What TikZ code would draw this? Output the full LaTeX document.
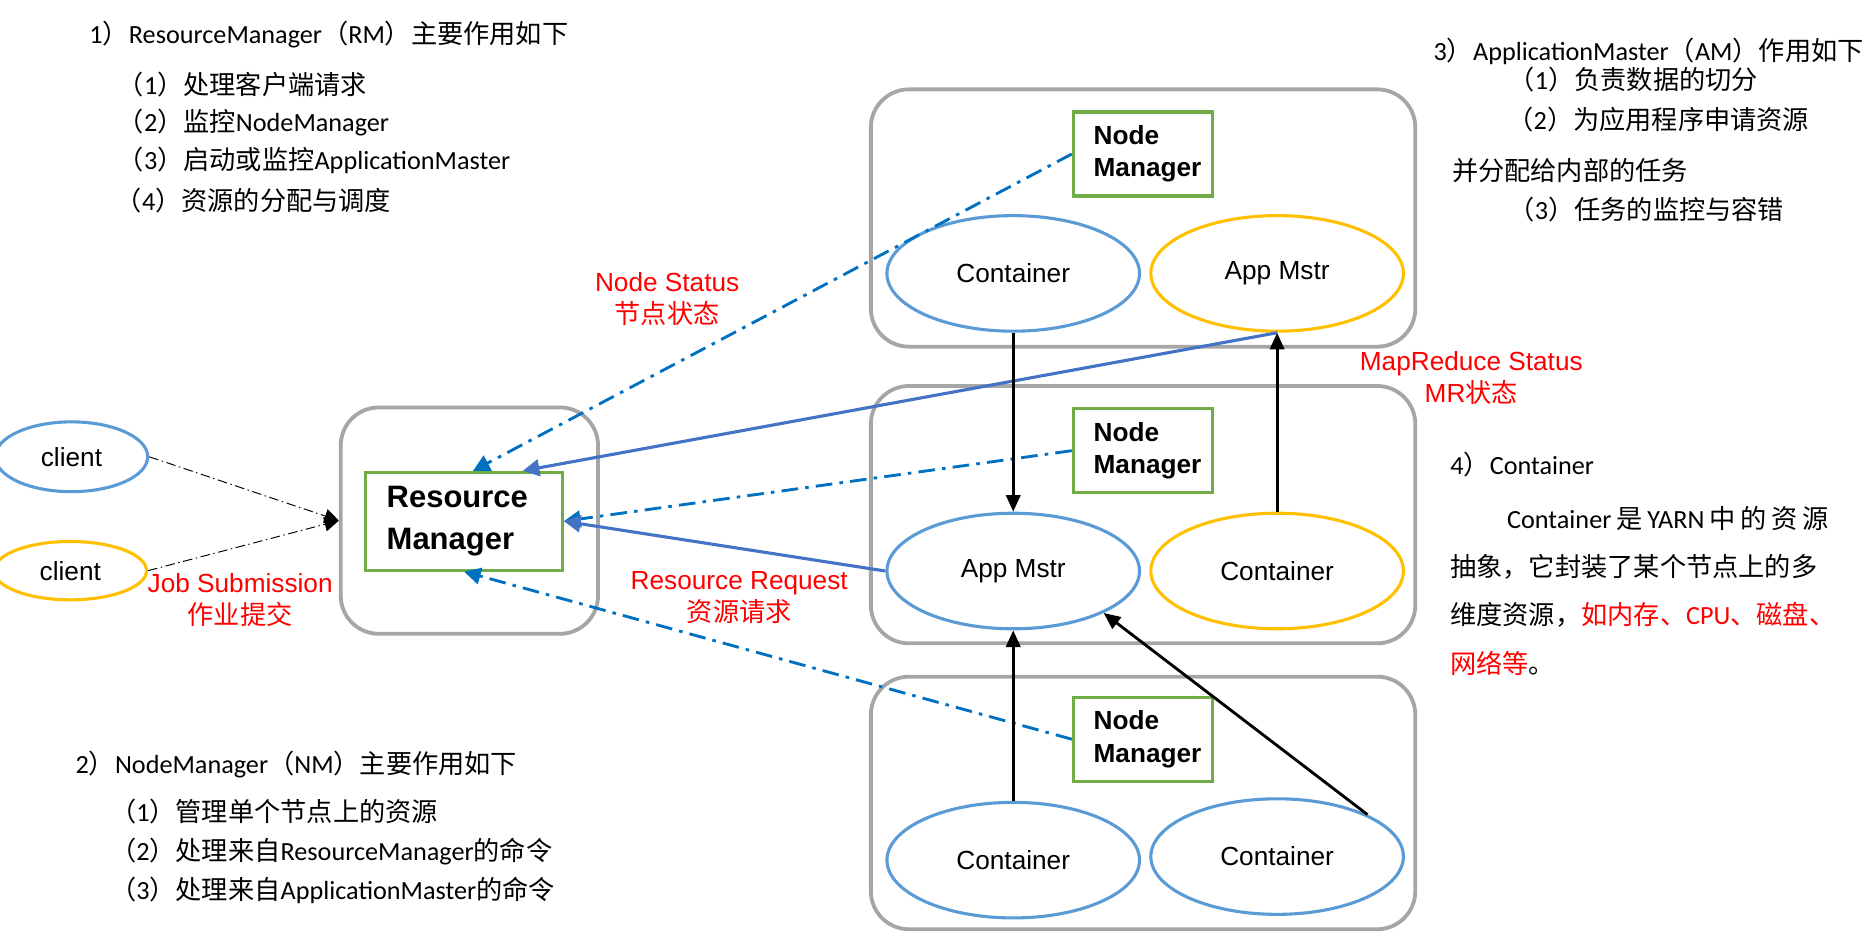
\documentclass[tikz,border=0pt]{standalone}
\usepackage{fontspec}
\setmainfont{Liberation Sans}
\newfontfamily\cjk{Noto Sans CJK SC}
\newfontfamily\lat{Carlito}
\usetikzlibrary{arrows.meta,shapes.geometric,calc}
\definecolor{cblue}{HTML}{5B9BD5}
\definecolor{cyel}{HTML}{FFC000}
\definecolor{cgreen}{HTML}{70AD47}
\definecolor{cgray}{HTML}{A6A6A6}
\definecolor{dblue}{HTML}{0070C0}
\definecolor{sblue}{HTML}{4472C4}
\begin{document}
\begin{tikzpicture}[x=0.5pt,y=-0.5pt,
  outer/.style={draw=cgray,line width=1.6pt,rounded corners=16pt,inner sep=0pt},
  greenbox/.style={draw=cgreen,line width=1.3pt,inner xsep=4pt,inner ysep=0pt,align=left},
  ell/.style={ellipse,line width=1.3pt,minimum width=106pt,minimum height=48.5pt,inner sep=0pt,font=\fontsize{11}{13}\selectfont},
  blueell/.style={ell,draw=cblue},
  yelell/.style={ell,draw=cyel},
  redlbl/.style={text=red,align=center,inner sep=0pt,font=\fontsize{11}{13.3}\selectfont},
  txt/.style={anchor=base west,inner sep=0pt,font=\cjk\fontsize{11}{13}\selectfont},
  blk/.style={-{Triangle[length=7pt,width=6pt]},line width=1.2pt},
  ddot/.style={draw=dblue,line width=1.2pt,dash pattern=on 7pt off 3pt on 1.5pt off 3pt,-{Triangle[length=7pt,width=7pt]}},
  sblu/.style={draw=sblue,line width=1.3pt,-{Triangle[length=7pt,width=7pt]}},
  cli/.style={draw=black,line width=0.4pt,dash pattern=on 4pt off 1.5pt on 0.6pt off 1.5pt,-{Triangle[length=6pt,width=6pt]}}
]
\fill[white] (0,0) rectangle (1568,782.3);
\useasboundingbox (0,0) rectangle (1568,782.3);

% outer boxes
\node[outer,minimum width=108pt,minimum height=95pt] (rmbox) at (394,437) {};
\node[outer,minimum width=228.5pt,minimum height=108pt] (nbox1) at (959.5,183) {};
\node[outer,minimum width=228.5pt,minimum height=108pt] (nbox2) at (959.5,432) {};
\node[outer,minimum width=228.5pt,minimum height=106pt] (nbox3) at (959.5,674) {};

% resource manager
\node[greenbox,minimum width=82.5pt,minimum height=41pt,text width=74.5pt,
      font=\bfseries\fontsize{13}{17.35}\selectfont] (rm) at (389.5,437.5)
      {\hspace*{4.8pt}Resource\\\hspace*{4.8pt}Manager};

% node managers
\node[greenbox,minimum width=58.5pt,minimum height=35.25pt,text width=50.5pt,
      font=\bfseries\fontsize{11}{13.65}\selectfont] (nm1) at (959.5,129.25)
      {\hspace*{4.5pt}Node\\\hspace*{4.5pt}Manager};
\node[greenbox,minimum width=58.5pt,minimum height=35.25pt,text width=50.5pt,
      font=\bfseries\fontsize{11}{13.65}\selectfont] (nm2) at (959.5,378.3)
      {\hspace*{4.5pt}Node\\\hspace*{4.5pt}Manager};
\node[greenbox,minimum width=58.5pt,minimum height=35.25pt,text width=50.5pt,
      font=\bfseries\fontsize{11}{13.65}\selectfont] (nm3) at (959.5,620.5)
      {\hspace*{4.5pt}Node\\\hspace*{4.5pt}Manager};

% ellipses
\node[blueell] (c1) at (850.5,229.5) {Container};
\node[yelell] (am1) at (1072,229.5) {App Mstr};
\node[blueell] (am2) at (850.5,479.3) {App Mstr};
\node[yelell] (c2) at (1072,479.3) {Container};
\node[blueell] (c3) at (850.5,722) {Container};
\node[blueell] (c4) at (1072,719) {Container};

% clients
\node[ell,draw=cblue,minimum width=64pt,minimum height=29.3pt] (cl1) at (60,383.4) {client};
\node[ell,draw=cyel,minimum width=64pt,minimum height=24.5pt] (cl2) at (59,479) {client};

% connectors
\draw[cli] (cl1.east) -- (rmbox.west);
\draw[cli] (cl2.east) -- (rmbox.west);
\draw[ddot] (nm1.west) -- ($(rm.north west)!0.545!(rm.north east)$);
\draw[ddot] (nm2.west) -- (rm.east);
\draw[ddot] (nm3.west) -- (rm.south);
\draw[sblu] (am1.south) -- ($(rm.north west)!0.794!(rm.north east)$);
\draw[sblu] (am2.west) -- (rm.east);
\draw[blk] (c1.south) -- (am2.north);
\draw[blk] (c2.north) -- (am1.south);
\draw[blk] (c3.north) -- (am2.south);
\draw[blk] (c4.north east) -- (am2.south east);

% red labels
\node[redlbl] (ns) at (560,251) {Node Status\\{\cjk 节点状态}};
\node[redlbl] (mr) at (1235,317.5) {MapReduce Status\\MR{\cjk 状态}};
\node[redlbl] (js) at (201.6,503.8) {Job Submission\\{\cjk 作业提交}};
\node[redlbl] (rr) at (620.5,501.5) {Resource Request\\{\cjk 资源请求}};

% text block 1
\node[txt] (t1a) at (74.7,36.4) {{\lat 1}）{\lat ResourceManager}（{\lat RM}）主要作用如下};
\node[txt] (t1b) at (98.5,79.7) {（{\lat 1}）处理客户端请求};
\node[txt] (t1c) at (98.5,110.4) {（{\lat 2}）监控{\lat NodeManager}};
\node[txt] (t1d) at (98.5,142.4) {（{\lat 3}）启动或监控{\lat ApplicationMaster}};
\node[txt] (t1e) at (96.8,176.4) {（{\lat 4}）资源的分配与调度};

% text block 2
\node[txt] (t2a) at (63,649.1) {{\lat 2}）{\lat NodeManager}（{\lat NM}）主要作用如下};
\node[txt] (t2b) at (92,689.4) {（{\lat 1}）管理单个节点上的资源};
\node[txt] (t2c) at (92,721.9) {（{\lat 2}）处理来自{\lat ResourceManager}的命令};
\node[txt] (t2d) at (92,755.4) {（{\lat 3}）处理来自{\lat ApplicationMaster}的命令};

% text block 3
\node[txt] (t3a) at (1203,50.4) {{\lat 3}）{\lat ApplicationMaster}（{\lat AM}）作用如下};
\node[txt] (t3b) at (1266,75.4) {（{\lat 1}）负责数据的切分};
\node[txt] (t3c) at (1265,109.1) {（{\lat 2}）为应用程序申请资源};
\node[txt] (t3d) at (1218.5,151.1) {并分配给内部的任务};
\node[txt] (t3e) at (1266,184.4) {（{\lat 3}）任务的监控与容错};

% text block 4
\node[txt] (t4a) at (1217,398.4) {{\lat 4}）{\lat Container}};
\node[txt] (t4b) at (1264.7,443.4) {\hbox to 134.9pt{{\lat Container}\hfil 是\hfil{\lat YARN}\hfil 中\hfil 的\hfil 资\hfil 源}};
\node[txt] (t4c) at (1217,484.1) {抽象，它封装了某个节点上的多};
\node[txt] (t4d) at (1217,524.4) {维度资源，\textcolor{red}{如内存、{\lat CPU}、磁盘、}};
\node[txt] (t4e) at (1217,565.2) {\textcolor{red}{网络等}。};
\end{tikzpicture}
\end{document}
